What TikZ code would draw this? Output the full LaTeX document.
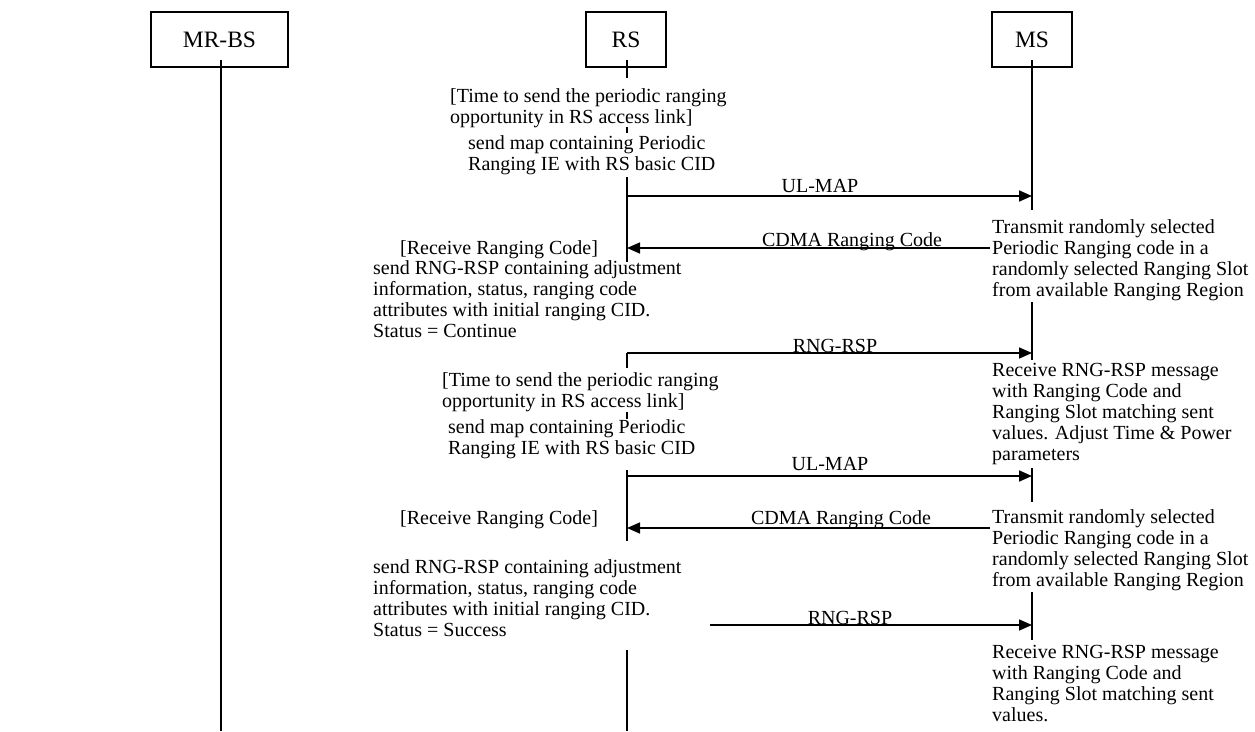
\documentclass[tikz,border=0pt]{standalone}
\usepackage{fontspec}
\setmainfont{Liberation Serif}
\usetikzlibrary{arrows.meta}
\begin{document}
\begin{tikzpicture}[x=1pt,y=-1pt,
  actor/.style={draw, line width=1.2pt, minimum width=80pt, minimum height=55pt, inner sep=0pt, font=\fontsize{23.5}{26}\selectfont},
  life/.style={line width=1.6pt},
  msg/.style={line width=1.6pt, -{Triangle[length=13pt,width=11pt]}},
  txt/.style={anchor=base west, align=left, inner sep=0pt, font=\fontsize{20}{21}\selectfont},
  lbl/.style={anchor=base, inner sep=0pt, font=\fontsize{20}{21}\selectfont}]
\fill[white] (0,0) rectangle (1255,731);
\useasboundingbox (0,0) rectangle (1255,731);

% actors
\node[actor, minimum width=137pt] (mrbs) at (219.5,39.5) {MR-BS};
\node[actor] (rs) at (626,39.5) {RS};
\node[actor] (ms) at (1032,39.5) {MS};

% lifeline coordinates
\coordinate (b0) at (221,60);  \coordinate (b1) at (221,731);
\coordinate (r0) at (627,60);   \coordinate (r1) at (627,78);
\coordinate (r2) at (627,127);  \coordinate (r3) at (627,133);
\coordinate (r4) at (627,177);  \coordinate (r5) at (627,262);
\coordinate (r6) at (627,353);  \coordinate (r7) at (627,368);
\coordinate (r8) at (627,412);  \coordinate (r9) at (627,419);
\coordinate (r10) at (627,470); \coordinate (r11) at (627,541);
\coordinate (r12) at (627,650); \coordinate (r13) at (627,731);
\coordinate (m0) at (1032,60);  \coordinate (m1) at (1032,210);
\coordinate (m2) at (1032,302); \coordinate (m3) at (1032,360);
\coordinate (m4) at (1032,468); \coordinate (m5) at (1032,502);
\coordinate (m6) at (1032,592); \coordinate (m7) at (1032,640);

\draw[life] (b0) -- (b1);
\draw[life] (r0) -- (r1);
\draw[life] (r2) -- (r3);
\draw[life] (r4) -- (r5);
\draw[life] (r6) -- (r7);
\draw[life] (r8) -- (r9);
\draw[life] (r10) -- (r11);
\draw[life] (r12) -- (r13);
\draw[life] (m0) -- (m1);
\draw[life] (m2) -- (m3);
\draw[life] (m4) -- (m5);
\draw[life] (m6) -- (m7);

% message end points
\coordinate (a1s) at (627,196);  \coordinate (a1e) at (1032,196);
\coordinate (a2s) at (990,248);  \coordinate (a2e) at (627,248);
\coordinate (a3s) at (627,353);  \coordinate (a3e) at (1032,353);
\coordinate (a4s) at (627,476);  \coordinate (a4e) at (1032,476);
\coordinate (a5s) at (990,528);  \coordinate (a5e) at (627,528);
\coordinate (a6s) at (710,625);  \coordinate (a6e) at (1032,625);

\draw[msg] (a1s) -- (a1e);
\draw[msg] (a2s) -- (a2e);
\draw[msg] (a3s) -- (a3e);
\draw[msg] (a4s) -- (a4e);
\draw[msg] (a5s) -- (a5e);
\draw[msg] (a6s) -- (a6e);

% message labels
\node[lbl] (l1) at (820,192) {UL-MAP};
\node[lbl] (l2) at (852,246) {CDMA Ranging Code};
\node[lbl] (l3) at (835,352) {RNG-RSP};
\node[lbl] (l4) at (830,470) {UL-MAP};
\node[lbl] (l5) at (841,524) {CDMA Ranging Code};
\node[lbl] (l6) at (850,624) {RNG-RSP};

% RS side texts (anchor = baseline of last line)
\node[txt] (t1) at (450,123) {[Time to send the periodic ranging\\opportunity in RS access link]};
\node[txt] (t2) at (468,170) {send map containing Periodic\\Ranging IE with RS basic CID};
\node[txt] (t3) at (400,254) {[Receive Ranging Code]};
\node[txt] (t4) at (373,337) {send RNG-RSP containing adjustment\\information, status, ranging code\\attributes with initial ranging CID.\\Status = Continue};
\node[txt] (t5) at (442,407) {[Time to send the periodic ranging\\opportunity in RS access link]};
\node[txt] (t6) at (448,454) {send map containing Periodic\\Ranging IE with RS basic CID};
\node[txt] (t7) at (400,524) {[Receive Ranging Code]};
\node[txt] (t8) at (373,636) {send RNG-RSP containing adjustment\\information, status, ranging code\\attributes with initial ranging CID.\\Status = Success};

% MS side texts
\node[txt] (u1) at (992,296) {Transmit randomly selected\\Periodic Ranging code in a\\randomly selected Ranging Slot\\from available Ranging Region};
\node[txt] (u2) at (992,460) {Receive RNG-RSP message\\with Ranging Code and\\Ranging Slot matching sent\\values. Adjust Time \& Power\\parameters};
\node[txt] (u3) at (992,586) {Transmit randomly selected\\Periodic Ranging code in a\\randomly selected Ranging Slot\\from available Ranging Region};
\node[txt] (u4) at (992,721) {Receive RNG-RSP message\\with Ranging Code and\\Ranging Slot matching sent\\values.};
\end{tikzpicture}
\end{document}
